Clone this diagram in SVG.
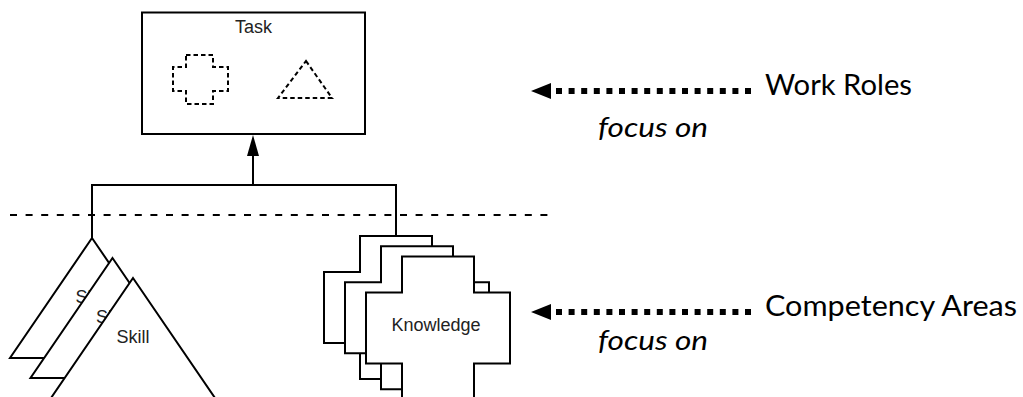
<svg xmlns="http://www.w3.org/2000/svg" width="1023" height="397" viewBox="0 0 1023 397">
<style>
.shape{fill:#fff;stroke:#000;stroke-width:2}
.lbl{font-family:"Liberation Sans",Arial,sans-serif;font-size:18px;fill:#222;text-anchor:middle}
.dash{fill:none;stroke:#000;stroke-width:2;stroke-dasharray:4.5 3}
.line{fill:none;stroke:#000;stroke-width:2}
.big{font-family:Lato,"Open Sans",sans-serif;font-size:28px;fill:#000}
.it{font-family:Lato,"Open Sans",sans-serif;font-size:27px;font-style:italic;fill:#000}
.dots{stroke:#000;stroke-width:6;stroke-dasharray:6 6.6;fill:none}
</style>
<defs>
<path id="tri" d="M0,0 L82,120 L-82,120 Z"/>
<path id="crs" d="M36,0 h72 v36 h36 v71 h-36 v36 h-72 v-36 h-36 v-71 h36 z"/>
</defs>
<line x1="10" y1="215" x2="556" y2="215" stroke="#000" stroke-width="2" stroke-dasharray="7 8.6"/>
<g id="connectors">
<polyline class="line" points="92,238 92,185 396,185 396,236"/>
<line class="line" x1="253" y1="185" x2="253" y2="152"/>
<polygon points="253,135 247,156 259,156" fill="#000"/>
</g>
<g id="task">
<rect class="shape" x="142" y="12.5" width="223" height="121.5"/>
<text class="lbl" x="253.5" y="33" font-size="17">Task</text>
<path class="dash" d="M186,55 H213 V67 H228 V91 H213 V104 H186 V91 H173 V67 H186 Z"/>
<path class="dash" d="M306,61 L332,98 H278 Z"/>
</g>
<g id="skill1">
<use href="#tri" class="shape" x="92" y="238"/>
<text class="lbl" x="92" y="303">Skill</text>
</g>
<g id="skill2">
<use href="#tri" class="shape" x="112.5" y="258"/>
<text class="lbl" x="112.5" y="323">Skill</text>
</g>
<g id="skill3">
<use href="#tri" class="shape" x="133" y="278"/>
<text class="lbl" x="133" y="343">Skill</text>
</g>
<g id="knowledge1">
<use href="#crs" class="shape" x="324" y="236"/>
</g>
<g id="knowledge2">
<use href="#crs" class="shape" x="345" y="246.3"/>
</g>
<g id="knowledge3">
<use href="#crs" class="shape" x="366" y="256.6"/>
<text class="lbl" x="436" y="331">Knowledge</text>
</g>
<g id="work-roles">
<polygon points="531,91 551,83 551,99" fill="#000"/>
<line class="dots" x1="556" y1="91" x2="757" y2="91"/>
<text class="big" x="765" y="95" textLength="147" lengthAdjust="spacingAndGlyphs">Work Roles</text>
<text class="it" x="598" y="137" textLength="110" lengthAdjust="spacingAndGlyphs">focus on</text>
</g>
<g id="competency-areas">
<polygon points="531,312 551,304 551,320" fill="#000"/>
<line class="dots" x1="556" y1="312" x2="757" y2="312"/>
<text class="big" x="765" y="316" textLength="252" lengthAdjust="spacingAndGlyphs">Competency Areas</text>
<text class="it" x="598" y="350" textLength="110" lengthAdjust="spacingAndGlyphs">focus on</text>
</g>
</svg>
